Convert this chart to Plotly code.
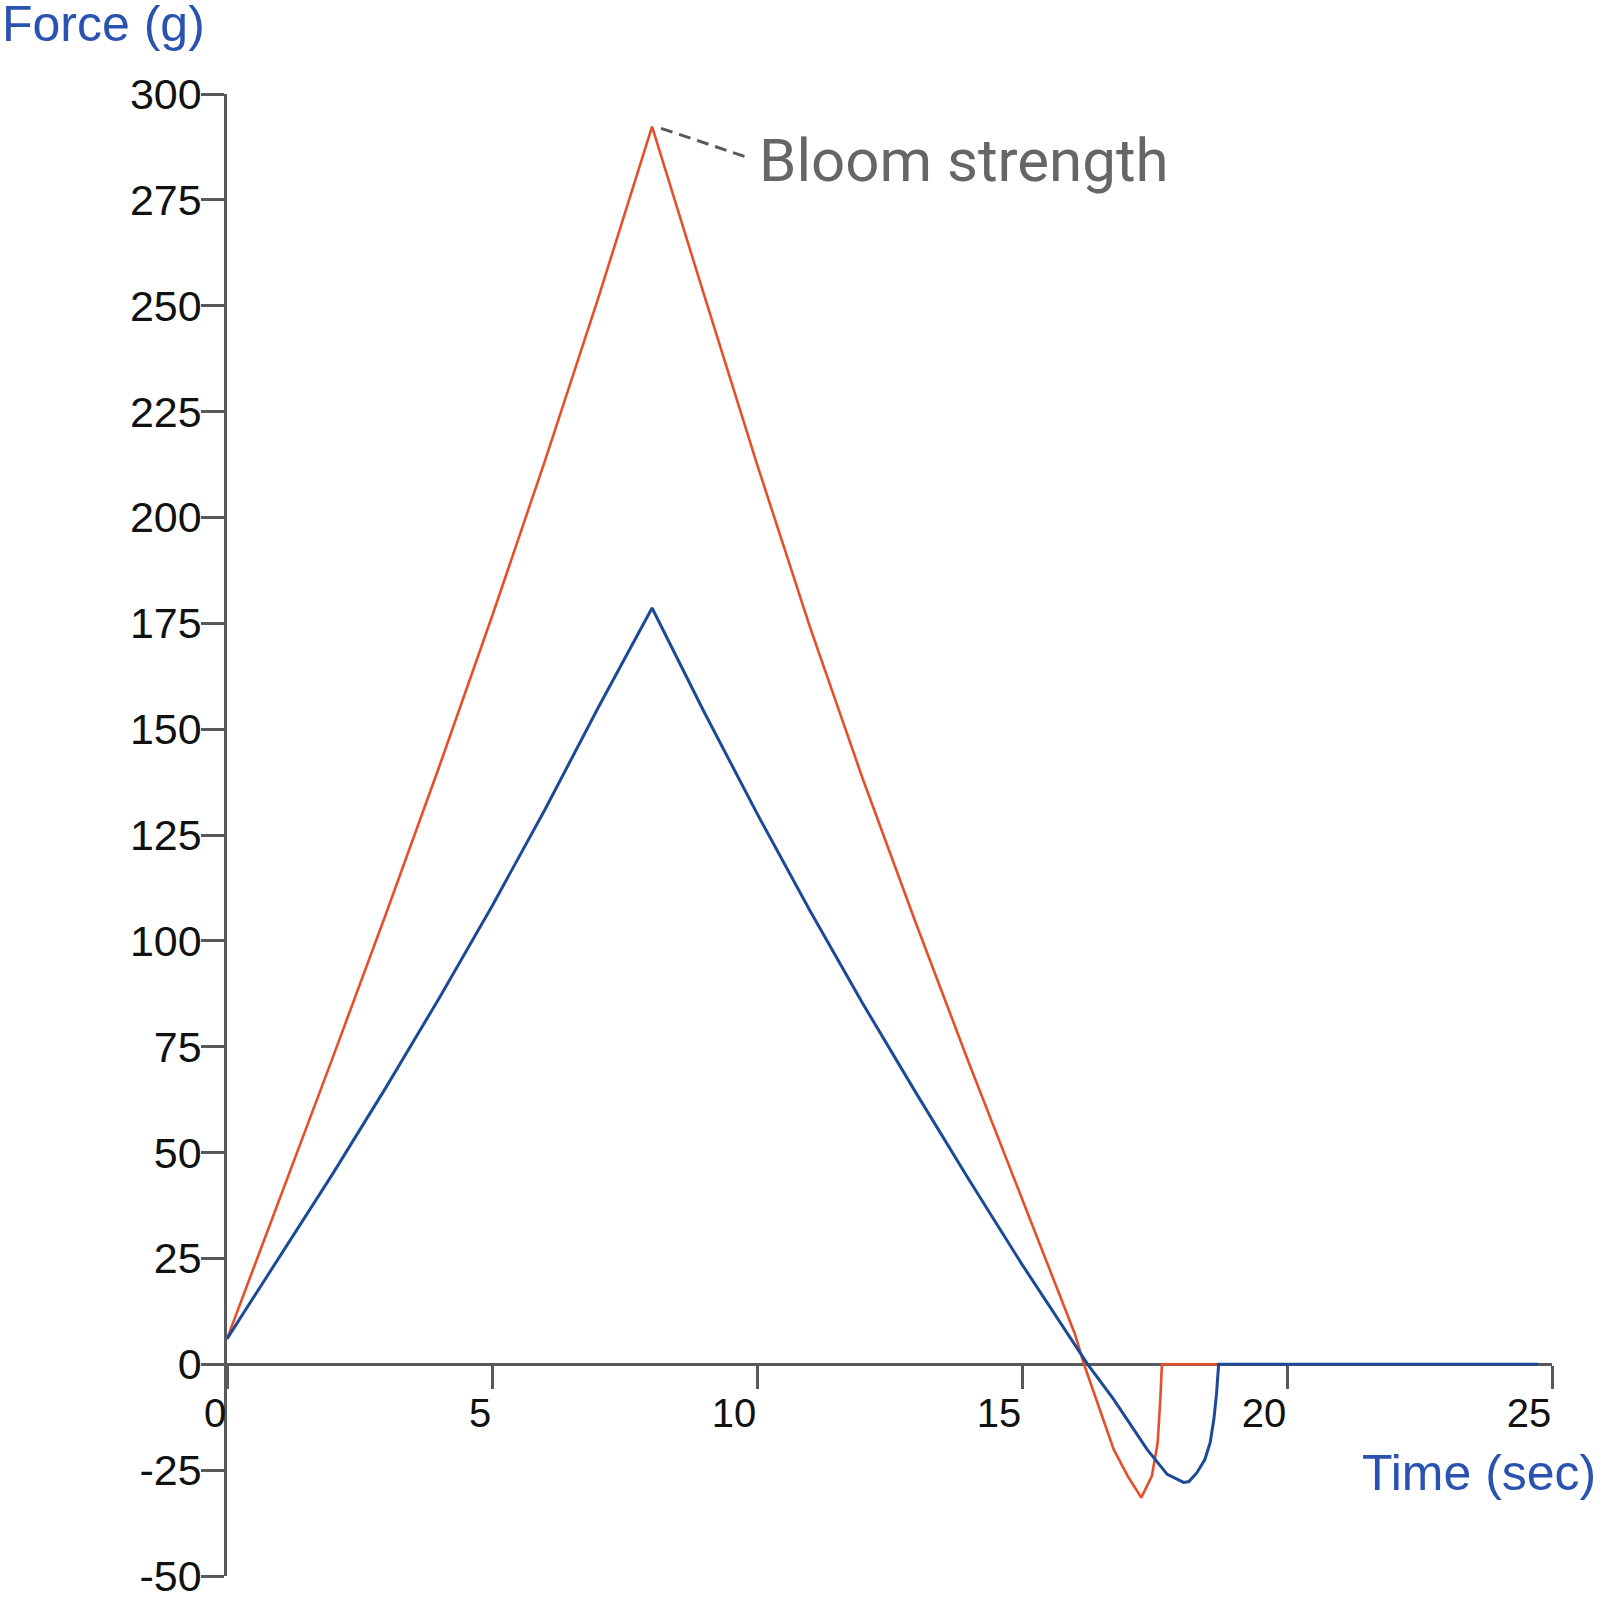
import plotly.graph_objs as go

# red trace (bloom strength run)
time_red = [0, 1, 2, 3, 4, 5, 6, 7, 8.02, 9, 10, 11, 12, 13, 14, 15, 16, 16.17,
            16.48, 16.73, 17.0, 17.25, 17.45, 17.56, 17.61, 17.64, 20.0, 24.74]
force_red = [6, 39.2, 72.6, 106.4, 141, 176.6, 213.4, 251.6, 292.3, 252.6, 212.6,
             174.1, 138.1, 104.1, 71.1, 39.1, 7.1, 0,
             -11.4, -20.1, -26.5, -31.5, -26.4, -18.5, -8.3, 0, 0, 0]

# blue trace
time_blue = [0, 1, 2, 3, 4, 5, 6, 7, 8.02, 9, 10, 11, 12, 13, 14, 15, 16.24,
             16.73, 17.36, 17.74, 18.05, 18.15, 18.3, 18.45, 18.55, 18.62, 18.67,
             18.71, 22.0, 24.74]
force_blue = [6, 25.4, 45.1, 65.4, 86.4, 108.2, 131, 155, 178.6, 154.1, 130.1,
              107.1, 85.1, 64.1, 43.6, 23.6, 0,
              -8.3, -20.1, -26, -27.9, -27.7, -25.6, -22.5, -18.5, -13, -7,
              0, 0, 0]

x_ticks = [0, 5, 10, 15, 20, 25]
x_tick_text = ['\u20070', '\u20075', '10', '15', '20', '25']
y_ticks = [-50, -25, 0, 25, 50, 75, 100, 125, 150, 175, 200, 225, 250, 275, 300]
y_tick_text = ['-50', '-25', '0', '25', '50', '75', '100', '125', '150', '175',
               '200', '225', '250', '275', '300']

peak_time = 8.02
peak_force = 292.3

RED = '#e4502b'
BLUE = '#1b4a97'
LABEL_BLUE = '#2a52b0'
AXIS_GREY = '#595959'
FONT = 'Liberation Sans, Arial'

W, H = 1600, 1600
L, R, T, B = 227, 48, 94, 24
PW = W - L - R
PH = H - T - B

traces = [
    go.Scatter(x=time_red, y=force_red, mode='lines',
               line=dict(color=RED, width=2.6), name='red'),
    go.Scatter(x=time_blue, y=force_blue, mode='lines',
               line=dict(color=BLUE, width=3), name='blue'),
]

layout = go.Layout(
    width=W, height=H,
    paper_bgcolor='white', plot_bgcolor='white',
    showlegend=False,
    margin=dict(l=L, r=R, t=T, b=B),
    xaxis=dict(range=[0, 25], tickvals=x_ticks, ticktext=x_tick_text,
               showgrid=False, zeroline=False, layer='below traces',
               automargin=False,
               showline=True, linecolor=AXIS_GREY, linewidth=2.5,
               ticks='outside', ticklen=23, tickwidth=2.5, tickcolor=AXIS_GREY,
               tickfont=dict(family=FONT, size=40, color='#111111'),
               ticklabelshift=-23, ticklabelstandoff=-10,
               anchor='free', position=50 / 350.0),
    yaxis=dict(range=[-50, 300], tickvals=y_ticks, ticktext=y_tick_text,
               showgrid=False, zeroline=False, layer='below traces',
               automargin=False,
               showline=True, linecolor=AXIS_GREY, linewidth=2.5,
               ticks='outside', ticklen=23, tickwidth=2.5, tickcolor=AXIS_GREY,
               tickfont=dict(family=FONT, size=43, color='#111111'),
               ticklabelstandoff=-9, ticklabeloverflow='allow'),
    shapes=[dict(type='line', xref='x', yref='y',
                 x0=peak_time + 0.17, y0=peak_force - 0.4, x1=9.78, y1=285.2,
                 line=dict(color=AXIS_GREY, width=3, dash='12px,7px'))],
    annotations=[
        dict(text='Bloom strength', xref='x', yref='y', x=10.0, y=284.3,
             xanchor='left', yanchor='middle', showarrow=False,
             font=dict(family='Roboto', size=60, color='#666666')),
        dict(text='Force (g)', xref='paper', yref='paper',
             x=-L / float(PW), y=1 + (T - 24) / float(PH),
             xanchor='left', yanchor='middle', showarrow=False,
             font=dict(family=FONT, size=50, color=LABEL_BLUE)),
        dict(text='Time (sec)', xref='paper', yref='paper',
             x=(1360 - L) / float(PW), y=(H - B - 1473) / float(PH),
             xanchor='left', yanchor='middle', showarrow=False,
             font=dict(family=FONT, size=50, color=LABEL_BLUE)),
    ],
)

fig = go.Figure(data=traces, layout=layout)

# page body margin would shift the whole chart by 8px
fig.write_html("out.html", config={'displayModeBar': False},
               post_script="document.body.style.margin = '0';")
